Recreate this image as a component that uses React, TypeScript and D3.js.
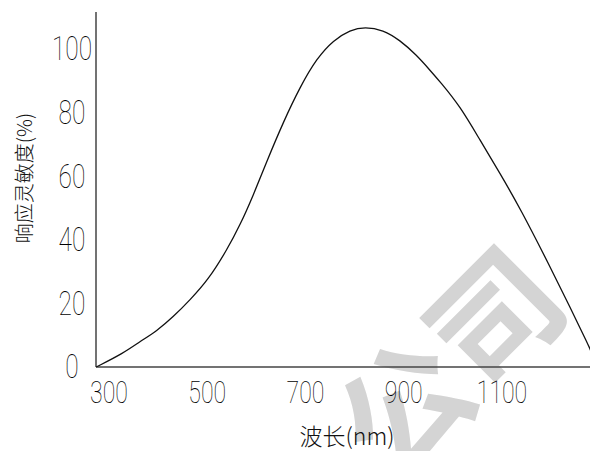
import React from 'react';
import * as d3 from 'd3';

// Spectral response data (wavelength in nm, response in %)
const wavelength = [274, 329, 363, 397, 431, 465, 502, 540, 567, 594, 621, 655, 689, 723, 757, 791, 821, 858, 892, 926, 953, 974, 1015, 1055, 1096, 1137, 1198, 1238, 1276, 1282];
const response = [0, 4.3, 8.0, 11.3, 15.8, 21.1, 27.4, 36.8, 44.7, 54.1, 64.6, 77.1, 88.1, 97.1, 102.8, 106.0, 107.0, 106.0, 102.8, 98.1, 93.4, 89.7, 81.9, 71.4, 60.9, 49.9, 31.5, 18.9, 6.9, 4.6];
const xTicks = [300, 500, 700, 900, 1100];
const yTicks = [0, 20, 40, 60, 80, 100];
const xTitle = '波长(nm)';
const yTitle = '响应灵敏度(%)';
const watermark = '公司';

const W = 590;
const H = 451;
const left = 96;
const right = 590;
const top = 12;
const bottom = 367;

export default function App() {
  const x = d3.scaleLinear().domain([300, 1100]).range([109, 502]);
  const y = d3.scaleLinear().domain([0, 100]).range([367, 49]);
  const pts: [number, number][] = wavelength.map((w, i) => [w, response[i]]);
  const line = d3
    .line<[number, number]>()
    .x((d) => x(d[0]))
    .y((d) => y(d[1]))
    .curve(d3.curveBasis);
  const tickFont = 'Roboto, "DejaVu Sans", sans-serif';
  return (
    <svg
      width={W}
      height={H}
      viewBox={`0 0 ${W} ${H}`}
      style={{ position: 'absolute', left: 0, top: 0, display: 'block', background: '#fff' }}
    >
      <rect x={0} y={0} width={W} height={H} fill="#fff" />
      <text
        transform="translate(393,487) rotate(-45)"
        fontFamily='"Noto Sans CJK SC", sans-serif'
        fontWeight={700}
        fontSize={128}
        fill="#d4d4d4"
      >
        {watermark}
      </text>
      <line x1={left} y1={top} x2={left} y2={bottom} stroke="#444" strokeWidth={1.5} />
      <line x1={left} y1={bottom} x2={right} y2={bottom} stroke="#444" strokeWidth={1.5} />
      <path d={line(pts) || ''} fill="none" stroke="#111" strokeWidth={1.3} />
      {yTicks.map((t) => (
        <text
          key={'y' + t}
          transform={`translate(72,${y(t)}) scale(0.72,1)`}
          textAnchor="middle"
          dominantBaseline="central"
          fontFamily={tickFont}
          fontWeight={100}
          fontSize={34}
          fill="#000"
        >
          {t}
        </text>
      ))}
      {xTicks.map((t) => (
        <text
          key={'x' + t}
          transform={`translate(${x(t)},392) scale(0.72,1)`}
          textAnchor="middle"
          dominantBaseline="central"
          fontFamily={tickFont}
          fontWeight={100}
          fontSize={32}
          fill="#000"
        >
          {t}
        </text>
      ))}
      <text
        transform="translate(347,435)"
        textAnchor="middle"
        dominantBaseline="central"
        fontFamily='"Noto Sans CJK SC", sans-serif'
        fontWeight={300}
        fontSize={23}
        fill="#111"
      >
        {xTitle}
      </text>
      <text
        transform="translate(23,178) rotate(-90)"
        textAnchor="middle"
        dominantBaseline="central"
        fontFamily='"Noto Sans CJK SC", sans-serif'
        fontWeight={300}
        fontSize={20}
        fill="#111"
      >
        {yTitle}
      </text>
    </svg>
  );
}
